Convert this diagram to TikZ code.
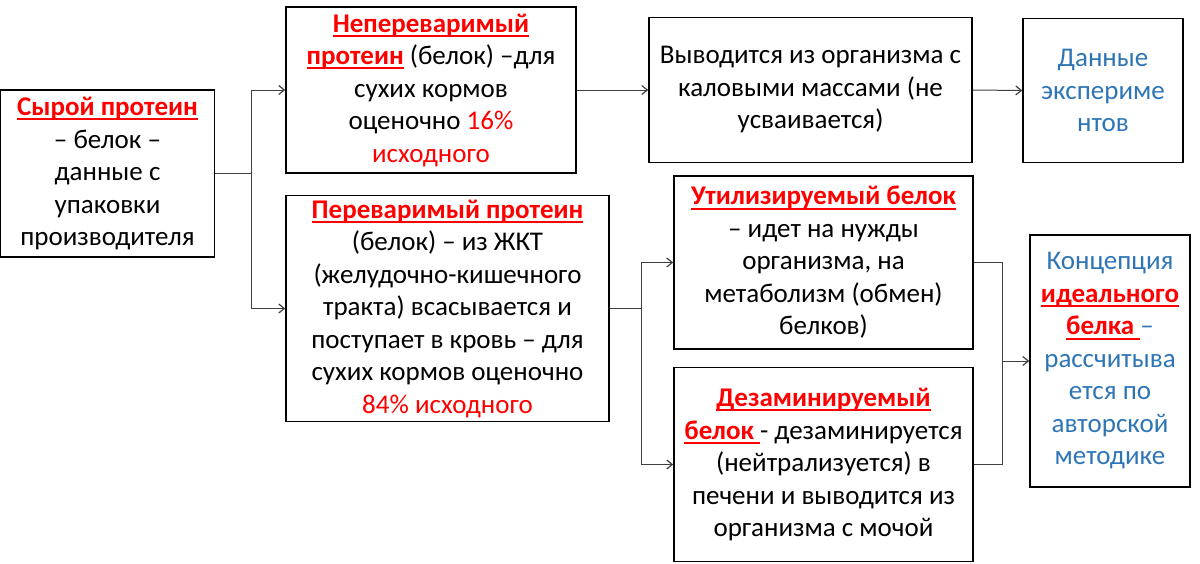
\documentclass[tikz,border=0pt]{standalone}
\usepackage{fontspec}
\setmainfont{Carlito}
\usetikzlibrary{arrows.meta}
\definecolor{tred}{HTML}{FF0000}
\definecolor{tblue}{HTML}{2E75B6}
\definecolor{lgray}{HTML}{404040}
\newcommand{\rb}[1]{\textcolor{tred}{\bfseries\setbox0\hbox{#1}\rlap{\rule[-4.6pt]{\wd0}{1.8pt}}\box0}}
\newcommand{\rt}[1]{\textcolor{tred}{#1}}
\begin{document}
\begin{tikzpicture}[x=1pt,y=-1pt,
  box/.style={draw=black,line width=1.6pt,inner sep=0pt,align=center,
    font=\fontsize{27}{32.5}\selectfont},
  conn/.style={draw=lgray,line width=1pt},
  arr/.style={conn,-{Straight Barb[length=5.5pt,width=9pt,line width=1.2pt]}}]
\useasboundingbox (0,0) rectangle (1200,563);
\node[box,minimum width=214pt,minimum height=167pt] (A) at (107.5,173.5)
  {\rb{Сырой протеин}\\– белок –\\данные с\\упаковки\\производителя};
\node[box,minimum width=290pt,minimum height=166pt] (B) at (431,90)
  {\rb{Непереваримый}\\\rb{протеин} (белок) –для\\сухих кормов\\оценочно \rt{16\%}\\\rt{исходного}};
\node[box,minimum width=323pt,minimum height=226pt] (C) at (447.5,308.5)
  {\rb{Переваримый протеин}\\(белок) – из ЖКТ\\(желудочно-кишечного\\тракта) всасывается и\\поступает в кровь – для\\сухих кормов оценочно\\\rt{84\% исходного}};
\node[box,minimum width=323pt,minimum height=145pt] (D) at (810.5,90)
  {Выводится из организма с\\каловыми массами (не\\усваивается)};
\node[box,minimum width=160pt,minimum height=144pt,text=tblue] (E) at (1103,90.5)
  {Данные\\экспериме\\нтов};
\node[box,minimum width=299pt,minimum height=173pt] (F) at (823.5,262.5)
  {\rb{Утилизируемый белок}\\– идет на нужды\\организма, на\\метаболизм (обмен)\\белков)};
\node[box,minimum width=299pt,minimum height=194pt] (G) at (823.5,464.5)
  {\rb{Дезаминируемый}\\\rb{белок }- дезаминируется\\(нейтрализуется) в\\печени и выводится из\\организма с мочой};
\node[box,minimum width=160pt,minimum height=252pt,text=tblue] (H) at (1110,361)
  {Концепция\\\rb{идеального}\\\rb{белка }–\\рассчитыва\\ется по\\авторской\\методике};
\coordinate (j1) at (251,0);
\coordinate (j2) at (641,0);
\coordinate (j3) at (1002,0);
\draw[conn] (A.east) -- (A.east -| j1);
\draw[arr] (A.east -| j1) |- (B.west);
\draw[arr] (A.east -| j1) |- (C.west);
\draw[arr] (B.east |- D.west) -- (D.west);
\draw[arr] (D.east) -- (E.west);
\draw[conn] (C.east) -- (C.east -| j2);
\draw[arr] (C.east -| j2) |- (F.west);
\draw[arr] (C.east -| j2) |- (G.west);
\draw[conn] (F.east) -| (j3 |- H.west);
\draw[conn] (G.east) -| (j3 |- H.west);
\draw[arr] (j3 |- H.west) -- (H.west);
\end{tikzpicture}
\end{document}
